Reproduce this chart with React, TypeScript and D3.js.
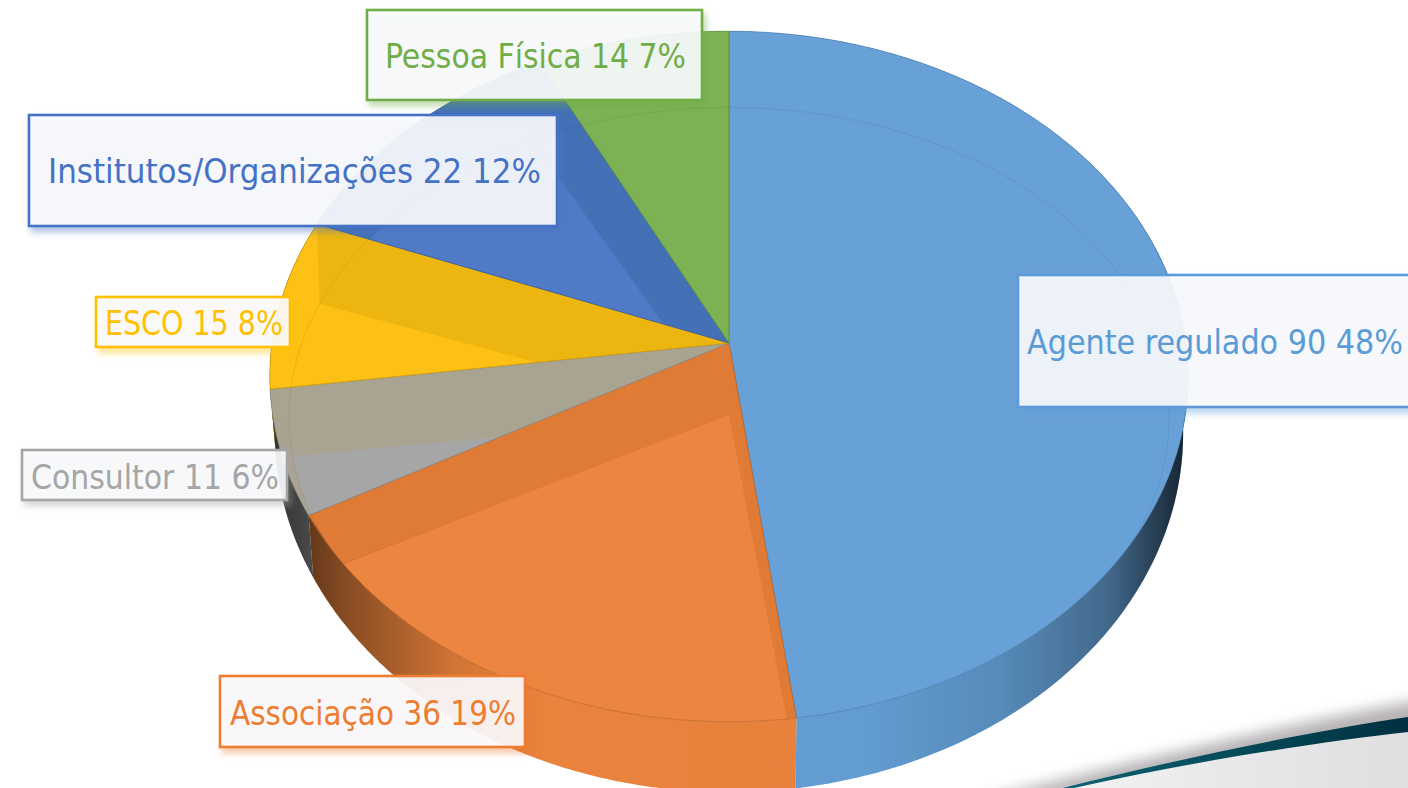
import React from 'react';
import * as d3 from 'd3';

const categories = ['Agente regulado', 'Associação', 'Consultor', 'ESCO', 'Institutos/Organizações', 'Pessoa Física'];
const counts = [90, 36, 11, 15, 22, 14];
const percents = [48, 19, 6, 8, 12, 7];
const colors = ['#5b9bd5', '#ed7d31', '#a5a5a5', '#ffc000', '#4472c4', '#70ad47'];
const faceColors = ['#68a1d7', '#ec8540', '#a6a6a6', '#fdc115', '#507ac5', '#7cb254'];
const bandColors = ['#649dd3', '#e07b36', '#a9a391', '#ecb510', '#4470b5', '#7ab052'];
const rimColors = ['#68a1d7', '#e07b36', '#a9a391', '#fdc115', '#4470b5', '#7cb254'];

// label boxes, same order as categories: box x, y, w, h, then text x, baseline, text width
const labelBoxes = [
  [1018, 275, 400, 132, 1027, 354, 376],
  [220, 676, 305, 71, 230, 725, 286],
  [22, 450, 265, 50, 31, 489, 248],
  [96, 297, 194, 50, 105, 335, 178],
  [29, 115, 528, 111, 48, 183, 493],
  [367, 10, 335, 90, 385, 68, 301],
];

const width = 1408;
const height = 788;

// the pie is drawn as three projected discs, q is the perspective
type Face = { cx: number; cy: number; rx: number; ry: number; q: number };
const topFace: Face = { cx: 729, cy: 343, rx: 457, ry: 342, q: 0.097 };
const innerFace: Face = { cx: 729, cy: 415, rx: 440, ry: 310, q: 0.008 };
const lowerFace: Face = { cx: 729, cy: 398, rx: 452, ry: 356, q: 0.097 };

const arcs = d3.pie<number>().sort(null).startAngle(0).endAngle(2 * Math.PI)(counts);

const project = (f: Face, a: number): [number, number] => {
  const u = Math.sin(a);
  const v = -Math.cos(a);
  const w = 1 - f.q * v;
  return [f.cx + (f.rx * u) / w, f.cy + (f.ry * v) / w];
};

const arcPoints = (f: Face, a0: number, a1: number) => {
  const pts = d3.range(a0, a1, 0.01).map(a => project(f, a));
  pts.push(project(f, a1));
  return pts;
};

const wedge = (f: Face, a0: number, a1: number) =>
  d3.line()([[f.cx, f.cy] as [number, number], ...arcPoints(f, a0, a1)]) + 'Z';

const disc = (f: Face) => d3.line()(arcPoints(f, 0, 2 * Math.PI)) + 'Z';

// outer wall between the rim of the top face and the lower face
const wall = (a0: number, a1: number) =>
  d3.line()([...arcPoints(topFace, a0, a1), ...arcPoints(lowerFace, a0, a1).reverse()]) + 'Z';

// inner cut side of a slice, between the two apexes
const cutSide = (a: number) =>
  d3.line()([
    [topFace.cx, topFace.cy],
    project(topFace, a),
    project(innerFace, a),
    [innerFace.cx, innerFace.cy],
  ]) + 'Z';

const App = () => {
  return (
    <svg width={width} height={height} style={{ position: 'absolute', left: 0, top: 0, background: '#fff' }}>
      <defs>
        <linearGradient id="wallShade" gradientUnits="userSpaceOnUse" x1={277} x2={1181} y1={0} y2={0}>
          <stop offset="0" stopColor="#000" stopOpacity={0.7} />
          <stop offset="0.08" stopColor="#000" stopOpacity={0.42} />
          <stop offset="0.2" stopColor="#000" stopOpacity={0.12} />
          <stop offset="0.3" stopColor="#000" stopOpacity={0.02} />
          <stop offset="0.65" stopColor="#000" stopOpacity={0.03} />
          <stop offset="0.8" stopColor="#000" stopOpacity={0.14} />
          <stop offset="0.92" stopColor="#000" stopOpacity={0.35} />
          <stop offset="1" stopColor="#000" stopOpacity={0.75} />
        </linearGradient>
        <linearGradient id="swooshBody" gradientUnits="userSpaceOnUse" x1={1060} x2={1408} y1={0} y2={0}>
          <stop offset="0" stopColor="#f3f3f4" />
          <stop offset="0.5" stopColor="#e8e8ea" />
          <stop offset="1" stopColor="#dfdfe2" />
        </linearGradient>
        <linearGradient id="swooshLine" gradientUnits="userSpaceOnUse" x1={1060} x2={1408} y1={0} y2={0}>
          <stop offset="0" stopColor="#0b6473" />
          <stop offset="1" stopColor="#00303f" />
        </linearGradient>
        <filter id="soft" x="-10%" y="-50%" width="120%" height="200%">
          <feGaussianBlur stdDeviation="7" />
        </filter>
        {colors.map((c, i) => (
          <filter key={c} id={`shadow${i}`} x="-10%" y="-20%" width="120%" height="150%">
            <feDropShadow dx={3} dy={5} stdDeviation={3} floodColor={c} floodOpacity={0.45} />
          </filter>
        ))}
        {arcs.map((d, i) => (
          <clipPath key={i} id={`slice${i}`}>
            <path d={wedge(topFace, d.startAngle, d.endAngle)} />
          </clipPath>
        ))}
      </defs>

      {/* swoosh in the slide background */}
      <path d="M1420 700 C1300 722 1170 752 980 800 L1420 800Z" fill="#857f84" opacity={0.6} filter="url(#soft)" />
      <path d="M1408 725 C1300 738 1180 760 1060 788 L1408 788Z" fill="url(#swooshBody)" />
      <path d="M1408 717 C1320 730 1200 754 1062 788 L1074 788 C1200 760 1320 742 1408 732Z" fill="url(#swooshLine)" />

      {/* outer wall */}
      {arcs.map((d, i) => (
        <g key={i}>
          <path d={wall(d.startAngle, d.endAngle)} fill={colors[i]} fillOpacity={0.94} />
          <path d={wall(d.startAngle, d.endAngle)} fill="url(#wallShade)" />
        </g>
      ))}

      {/* slices: rim, then the dark cut sides, then the lit face */}
      {arcs.map((d, i) => (
        <g key={i}>
          <path d={wedge(topFace, d.startAngle, d.endAngle)} fill={rimColors[i]} />
          {i === 1 && <path d={wedge(topFace, d.startAngle, d.endAngle)} fill="url(#wallShade)" />}
          <g clipPath={`url(#slice${i})`}>
            <path d={cutSide(d.startAngle)} fill={bandColors[i]} />
            <path d={cutSide(d.endAngle)} fill={bandColors[i]} />
            <path d={wedge(innerFace, d.startAngle, d.endAngle)} fill={faceColors[i]} />
            <path
              d={disc(innerFace)}
              fill="none"
              stroke={d3.color(bandColors[i])!.darker(0.4).toString()}
              strokeWidth={0.7}
              strokeOpacity={0.6}
            />
          </g>
          <path
            d={wedge(topFace, d.startAngle, d.endAngle)}
            fill="none"
            stroke={d3.color(colors[i])!.darker(0.7).toString()}
            strokeOpacity={0.8}
            strokeWidth={0.8}
          />
        </g>
      ))}

      {/* labels */}
      {categories.map((name, i) => {
        const [x, y, w, h, tx, ty, tw] = labelBoxes[i];
        return (
          <g key={name}>
            <rect
              x={x}
              y={y}
              width={w}
              height={h}
              fill="#fafbfd"
              fillOpacity={0.9}
              stroke={colors[i]}
              strokeWidth={2.6}
              filter={`url(#shadow${i})`}
            />
            <text
              x={tx}
              y={ty}
              textLength={tw}
              lengthAdjust="spacingAndGlyphs"
              fontFamily="'DejaVu Sans Condensed', 'DejaVu Sans', sans-serif"
              fontSize={34}
              fill={colors[i]}
            >
              {`${name} ${counts[i]} ${percents[i]}%`}
            </text>
          </g>
        );
      })}
    </svg>
  );
};

export default App;
